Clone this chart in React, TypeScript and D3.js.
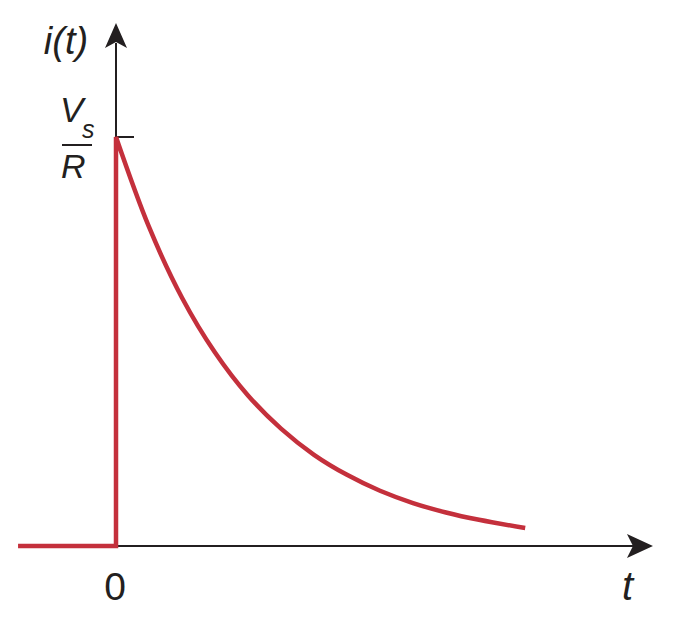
import React from "react";
import * as d3 from "d3";

// time in units of tau, current in units of Vs/R
const preT = [-0.742, 0];
const preI = [0, 0];
const decayT = [0, 0.25, 0.5, 0.75, 1.0, 1.25, 1.5, 1.75, 2.0, 2.25, 2.5, 2.75, 3.1];
const decayI = [1.0, 0.78, 0.607, 0.473, 0.368, 0.287, 0.223, 0.174, 0.135, 0.105, 0.082, 0.064, 0.044];
const yTickValues = [1];
const xTickLabels = ["0"];

const W = 674;
const H = 618;

export default function App() {
  const x = d3.scaleLinear().domain([0, 1]).range([116, 248]);
  const y = d3.scaleLinear().domain([0, 1]).range([546, 137]);

  const line = d3
    .line<[number, number]>()
    .x((d) => x(d[0]))
    .y((d) => y(d[1]))
    .curve(d3.curveCatmullRom.alpha(0.5));

  const pre: [number, number][] = preT.map((t, i) => [t, preI[i]]);
  const decay: [number, number][] = decayT.map((t, i) => [t, decayI[i]]);
  const redPath =
    d3.line<[number, number]>().x((d) => x(d[0])).y((d) => y(d[1]))([
      ...pre,
      [0, decayI[0]],
    ]) + (line(decay) || "").replace(/^M/, "L");

  const x0 = x(0);
  const y0 = y(0);
  const yTip = y(1.279);
  const xTip = x(4.068);
  const axisColor = "#231f20";
  const red = "#c4303c";
  const font = "'Liberation Sans', Arial, sans-serif";

  return (
    <svg
      width={W}
      height={H}
      style={{ position: "absolute", left: 0, top: 0, background: "#fff" }}
    >
      {/* axes */}
      <line x1={x0} y1={y0} x2={x0} y2={yTip + 20} stroke={axisColor} strokeWidth={2} />
      <path
        d={`M${x0},${yTip} L${x0 + 11},${yTip + 25} L${x0},${yTip + 19} L${x0 - 11},${yTip + 25} Z`}
        fill={axisColor}
      />
      <line x1={x0} y1={y0} x2={xTip - 20} y2={y0} stroke={axisColor} strokeWidth={2} />
      <path
        d={`M${xTip},${y0} L${xTip - 26},${y0 - 12} L${xTip - 20},${y0} L${xTip - 26},${y0 + 12} Z`}
        fill={axisColor}
      />
      {yTickValues.map((v) => (
        <line key={v} x1={x0} y1={y(v)} x2={x0 + 18} y2={y(v)} stroke={axisColor} strokeWidth={2} />
      ))}

      {/* current */}
      <path d={redPath} fill="none" stroke={red} strokeWidth={4.5} strokeLinejoin="miter" />

      {/* labels */}
      <text x={66} y={54} fontFamily={font} fontStyle="italic" fontSize={38} textAnchor="middle" fill={axisColor}>
        i(t)
      </text>
      <text x={60} y={122} fontFamily={font} fontStyle="italic" fontSize={35} fill={axisColor}>
        V
      </text>
      <text x={82} y={138} fontFamily={font} fontStyle="italic" fontSize={25} fill={axisColor}>
        s
      </text>
      <line x1={62} y1={145} x2={92} y2={145} stroke={axisColor} strokeWidth={2} />
      <text x={61} y={178} fontFamily={font} fontStyle="italic" fontSize={34} fill={axisColor}>
        R
      </text>
      {xTickLabels.map((l) => (
        <text key={l} x={x0 - 1} y={600} fontFamily={font} fontSize={39} textAnchor="middle" fill={axisColor}>
          {l}
        </text>
      ))}
      <text x={622} y={600} fontFamily={font} fontStyle="italic" fontSize={40} fill={axisColor}>
        t
      </text>
    </svg>
  );
}
